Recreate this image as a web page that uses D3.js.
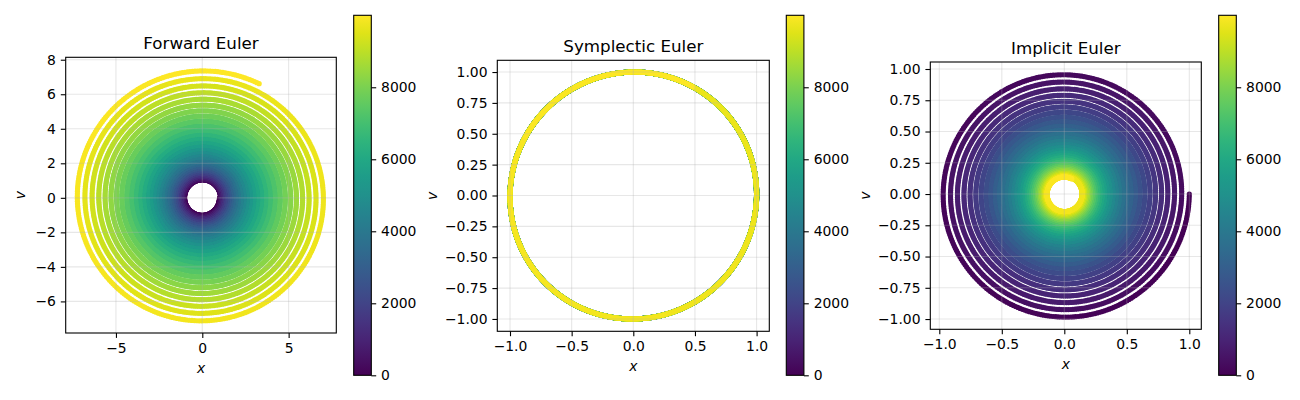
<!DOCTYPE html>
<html lang="en">
<head>
    <meta charset="UTF-8">
    <title>Euler integrators</title>
    <script src="https://cdnjs.cloudflare.com/ajax/libs/d3/7.9.0/d3.min.js"></script>
    <style>
        body { margin: 0; background: white; }
        svg { display: block; font-family: "DejaVu Sans", sans-serif; }
    </style>
</head>
<body>
    <svg id="chart" width="1300" height="400"></svg>

    <script>
        // simulation settings (harmonic oscillator x' = v, v' = -x)
        const dt = 0.02;
        const nSteps = 10000;
        const x0 = 1.0;
        const v0 = 0.0;

        const titles = ["Forward Euler", "Symplectic Euler", "Implicit Euler"];
        const methods = ["forward", "symplectic", "implicit"];
        const xTicks = [[-5, 0, 5], [-1, -0.5, 0, 0.5, 1], [-1, -0.5, 0, 0.5, 1]];
        const yTicks = [[-6, -4, -2, 0, 2, 4, 6, 8],
                        [-1, -0.75, -0.5, -0.25, 0, 0.25, 0.5, 0.75, 1],
                        [-1, -0.75, -0.5, -0.25, 0, 0.25, 0.5, 0.75, 1]];
        const xFormats = ["d", ".1f", ".1f"];
        const yFormats = ["d", ".2f", ".2f"];
        const xDomains = [[-7.91, 7.76], [-1.103, 1.103], [-1.072, 1.096]];
        const yDomains = [[-7.83, 8.14], [-1.10, 1.095], [-1.082, 1.056]];
        const cbTicks = [0, 2000, 4000, 6000, 8000];

        // layout (px)
        const boxes = [
            { left: 65.7, top: 57.3, width: 270.6, height: 275.7, cb: 353.7, ylab: 21 },
            { left: 497.3, top: 60.3, width: 272, height: 271, cb: 786.3, ylab: 433 },
            { left: 930.3, top: 62, width: 271, height: 267.3, cb: 1218.7, ylab: 866 }
        ];
        const cbTop = 15.3, cbHeight = 360, cbWidth = 17.6;
        const tickLen = 4.9, tickPad = 4.9;

        function step(method, x, v) {
            if (method === "forward") {
                return [x + dt * v, v - dt * x];
            } else if (method === "symplectic") {
                const vn = v - dt * x;
                return [x + dt * vn, vn];
            } else {
                const d = 1 + dt * dt;
                return [(x + dt * v) / d, (v - dt * x) / d];
            }
        }

        function integrate(method) {
            const pts = [];
            let x = x0, v = v0;
            for (let i = 0; i < nSteps; i++) {
                pts.push({ i: i, x: x, v: v });
                [x, v] = step(method, x, v);
            }
            return pts;
        }

        const svg = d3.select("#chart");
        const color = d3.scaleSequential(d3.interpolateViridis).domain([0, nSteps - 1]);

        // colorbar gradient
        const grad = svg.append("defs").append("linearGradient")
            .attr("id", "viridis")
            .attr("x1", 0).attr("y1", 1).attr("x2", 0).attr("y2", 0);
        d3.range(0, 1.0001, 0.05).forEach(t => {
            grad.append("stop").attr("offset", t).attr("stop-color", d3.interpolateViridis(t));
        });

        methods.forEach((m, k) => {
            const b = boxes[k];
            const xs = d3.scaleLinear().domain(xDomains[k]).range([b.left, b.left + b.width]);
            const ys = d3.scaleLinear().domain(yDomains[k]).range([b.top + b.height, b.top]);
            const g = svg.append("g");
            const data = integrate(m);

            // points
            g.append("g").selectAll("circle")
                .data(data)
                .join("circle")
                .attr("cx", d => xs(d.x))
                .attr("cy", d => ys(d.v))
                .attr("r", 2.6)
                .attr("fill", d => color(d.i));

            // grid (drawn over the points, like the original)
            const grid = g.append("g")
                .attr("stroke", "#b0b0b0")
                .attr("stroke-opacity", 0.3)
                .attr("stroke-width", 1.1);
            grid.selectAll(".gx").data(xTicks[k]).join("line")
                .attr("x1", d => xs(d)).attr("x2", d => xs(d))
                .attr("y1", b.top).attr("y2", b.top + b.height);
            grid.selectAll(".gy").data(yTicks[k]).join("line")
                .attr("y1", d => ys(d)).attr("y2", d => ys(d))
                .attr("x1", b.left).attr("x2", b.left + b.width);

            // axes
            const xAxis = d3.axisBottom(xs).tickValues(xTicks[k])
                .tickFormat(d3.format(xFormats[k])).tickSize(tickLen).tickPadding(tickPad);
            const yAxis = d3.axisLeft(ys).tickValues(yTicks[k])
                .tickFormat(d3.format(yFormats[k])).tickSize(tickLen).tickPadding(tickPad);

            g.append("g").attr("transform", `translate(0,${b.top + b.height})`).call(xAxis);
            g.append("g").attr("transform", `translate(${b.left},0)`).call(yAxis);

            g.selectAll(".domain").remove();
            g.selectAll(".tick line").attr("stroke", "black").attr("stroke-width", 1.1);
            g.selectAll(".tick text").attr("font-size", "13.9px").attr("fill", "black")
                .attr("font-family", "DejaVu Sans");

            g.append("rect")
                .attr("x", b.left).attr("y", b.top)
                .attr("width", b.width).attr("height", b.height)
                .attr("fill", "none").attr("stroke", "black").attr("stroke-width", 1.1);

            // title and labels
            g.append("text")
                .attr("x", b.left + b.width / 2).attr("y", b.top - 8.3)
                .attr("text-anchor", "middle")
                .attr("font-size", "16.7px")
                .text(titles[k]);

            g.append("text")
                .attr("x", b.left + b.width / 2).attr("y", b.top + b.height + 40)
                .attr("text-anchor", "middle")
                .attr("font-size", "13.9px")
                .attr("font-style", "italic")
                .text("x");

            g.append("text")
                .attr("transform", `translate(${b.ylab + 4},${b.top + b.height / 2}) rotate(-90)`)
                .attr("text-anchor", "middle")
                .attr("font-size", "13.9px")
                .attr("font-style", "italic")
                .text("v");

            // colorbar
            const cs = d3.scaleLinear().domain([0, nSteps - 1]).range([cbTop + cbHeight, cbTop]);
            g.append("rect")
                .attr("x", b.cb).attr("y", cbTop)
                .attr("width", cbWidth).attr("height", cbHeight)
                .attr("fill", "url(#viridis)")
                .attr("stroke", "black").attr("stroke-width", 1.1);
            const cAxis = d3.axisRight(cs).tickValues(cbTicks)
                .tickFormat(d3.format("d")).tickSize(tickLen).tickPadding(tickPad);
            const cg = g.append("g").attr("transform", `translate(${b.cb + cbWidth},0)`).call(cAxis);
            cg.select(".domain").remove();
            cg.selectAll(".tick line").attr("stroke", "black").attr("stroke-width", 1.1);
            cg.selectAll(".tick text").attr("font-size", "13.9px").attr("fill", "black")
                .attr("font-family", "DejaVu Sans");
        });
    </script>
</body>
</html>
